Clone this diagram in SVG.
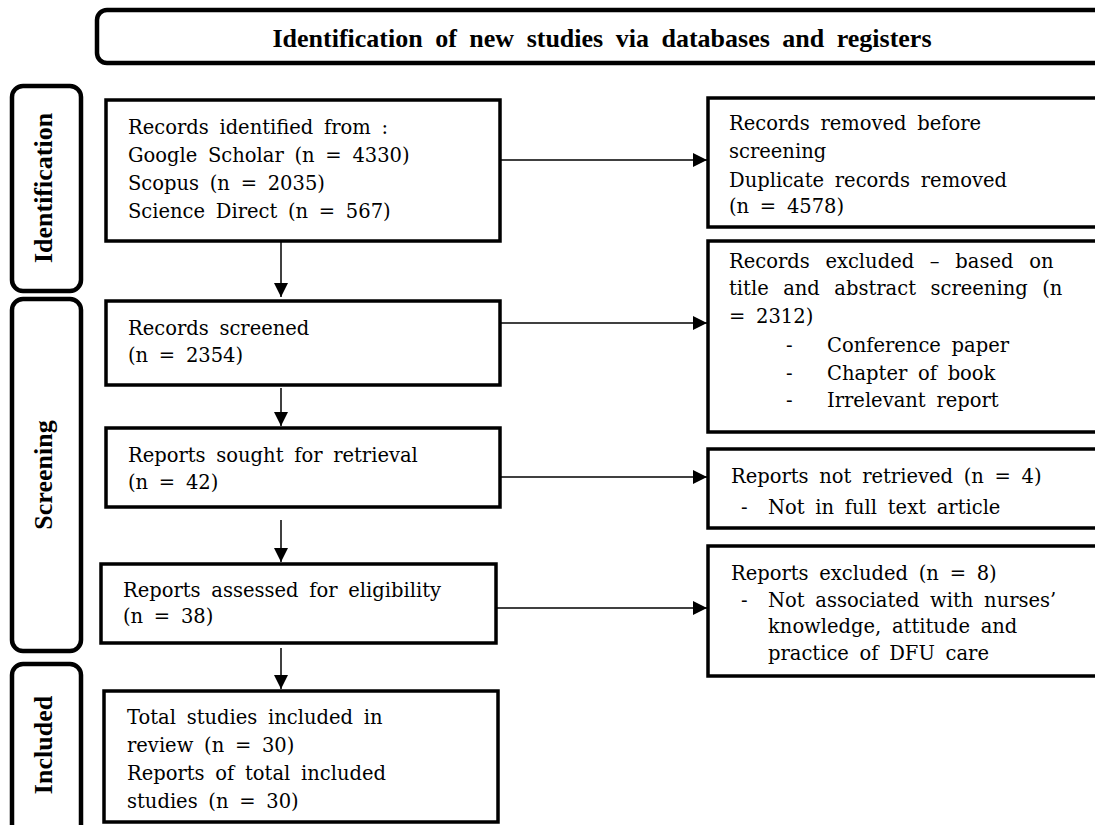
<svg xmlns="http://www.w3.org/2000/svg" width="1095" height="825" viewBox="0 0 1095 825">
<defs>
<marker id="ah" viewBox="0 0 14 14" refX="14" refY="7" markerWidth="14" markerHeight="14" markerUnits="userSpaceOnUse" orient="auto">
<path d="M0,0 L14,7 L0,14 z" fill="#000"/>
</marker>
<style>
.box{fill:#fff;stroke:#000;stroke-width:3.5}
.side{fill:#fff;stroke:#000;stroke-width:4.5}
.t{font-family:"DejaVu Serif","Liberation Serif",serif;font-size:19.5px;fill:#000;word-spacing:4.5px}
.b{font-family:"Liberation Serif","DejaVu Serif",serif;font-size:26px;font-weight:bold;fill:#000;word-spacing:6px}
.c{stroke:#000;stroke-width:1.5;fill:none}
</style>
</defs>
<rect width="1095" height="825" fill="#fff"/>
<g id="title">
<rect class="side" x="97" y="10" width="1020" height="53" rx="10"/>
<text class="b" x="602" y="47" text-anchor="middle">Identification of new studies via databases and registers</text>
</g>
<g id="phase-identification">
<rect class="side" x="12" y="86" width="69" height="205" rx="11"/>
<text class="b" style="word-spacing:0" transform="translate(52,188) rotate(-90)" text-anchor="middle">Identification</text>
</g>
<g id="phase-screening">
<rect class="side" x="12" y="299" width="69" height="352" rx="11"/>
<text class="b" style="word-spacing:0" transform="translate(52,475) rotate(-90)" text-anchor="middle">Screening</text>
</g>
<g id="phase-included">
<rect class="side" x="12" y="664" width="69" height="180" rx="11"/>
<text class="b" style="word-spacing:0" transform="translate(52,745) rotate(-90)" text-anchor="middle">Included</text>
</g>
<g id="n1">
<rect class="box" x="106" y="100" width="394" height="141"/>
<text class="t" x="128" y="134">Records identified from :</text>
<text class="t" x="128" y="162">Google Scholar (n = 4330)</text>
<text class="t" x="128" y="190">Scopus (n = 2035)</text>
<text class="t" x="128" y="218">Science Direct (n = 567)</text>
</g>
<g id="r1">
<rect class="box" x="708" y="98" width="400" height="129"/>
<text class="t" x="729" y="130">Records removed before</text>
<text class="t" x="729" y="158">screening</text>
<text class="t" x="729" y="187">Duplicate records removed</text>
<text class="t" x="729" y="213">(n = 4578)</text>
</g>
<g id="n2">
<rect class="box" x="106" y="301" width="394" height="84"/>
<text class="t" x="128" y="335">Records screened</text>
<text class="t" x="128" y="362">(n = 2354)</text>
</g>
<g id="r2">
<rect class="box" x="708" y="241" width="400" height="191"/>
<text class="t" x="729" y="268" style="word-spacing:9.5px">Records excluded – based on</text>
<text class="t" x="729" y="295" style="word-spacing:8.3px">title and abstract screening (n</text>
<text class="t" x="729" y="323">= 2312)</text>
<text class="t" x="786" y="352">-</text>
<text class="t" x="827" y="352">Conference paper</text>
<text class="t" x="786" y="380">-</text>
<text class="t" x="827" y="380">Chapter of book</text>
<text class="t" x="786" y="407">-</text>
<text class="t" x="827" y="407">Irrelevant report</text>
</g>
<g id="n3">
<rect class="box" x="106" y="428" width="394" height="79"/>
<text class="t" x="128" y="462">Reports sought for retrieval</text>
<text class="t" x="128" y="489">(n = 42)</text>
</g>
<g id="r3">
<rect class="box" x="708" y="449" width="400" height="79"/>
<text class="t" x="731" y="483">Reports not retrieved (n = 4)</text>
<text class="t" x="741" y="514">-</text>
<text class="t" x="768" y="514">Not in full text article</text>
</g>
<g id="n4">
<rect class="box" x="101" y="564" width="395" height="79"/>
<text class="t" x="123" y="597">Reports assessed for eligibility</text>
<text class="t" x="123" y="623">(n = 38)</text>
</g>
<g id="r4">
<rect class="box" x="708" y="546" width="400" height="130"/>
<text class="t" x="731" y="580">Reports excluded (n = 8)</text>
<text class="t" x="741" y="607">-</text>
<text class="t" x="768" y="607">Not associated with nurses’</text>
<text class="t" x="768" y="633">knowledge, attitude and</text>
<text class="t" x="768" y="660">practice of DFU care</text>
</g>
<g id="n5">
<rect class="box" x="104" y="691" width="394" height="131"/>
<text class="t" x="127" y="724">Total studies included in</text>
<text class="t" x="127" y="752">review (n = 30)</text>
<text class="t" x="127" y="780">Reports of total included</text>
<text class="t" x="127" y="808">studies (n = 30)</text>
</g>
<g id="connectors">
<line class="c" x1="500" y1="160" x2="707" y2="160" marker-end="url(#ah)"/>
<line class="c" x1="500" y1="323" x2="707" y2="323" marker-end="url(#ah)"/>
<line class="c" x1="500" y1="477" x2="707" y2="477" marker-end="url(#ah)"/>
<line class="c" x1="496" y1="608" x2="707" y2="608" marker-end="url(#ah)"/>
<line class="c" x1="281" y1="242" x2="281" y2="297" marker-end="url(#ah)"/>
<line class="c" x1="281" y1="388" x2="281" y2="426" marker-end="url(#ah)"/>
<line class="c" x1="281" y1="520" x2="281" y2="562" marker-end="url(#ah)"/>
<line class="c" x1="281" y1="648" x2="281" y2="689" marker-end="url(#ah)"/>
</g>
</svg>
